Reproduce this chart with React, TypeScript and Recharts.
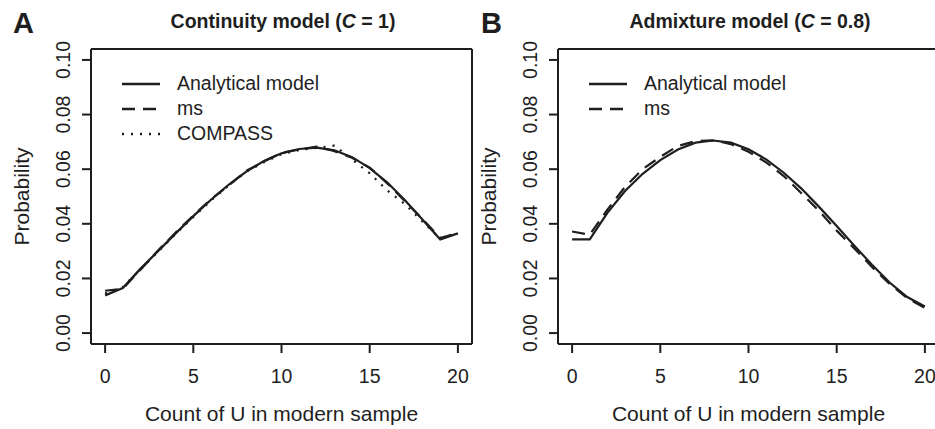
import React from 'react';
import { LineChart, Line, XAxis, YAxis, ReferenceLine, Legend, Label } from 'recharts';

// count of U in the modern sample (x)
const uCounts = [0, 1, 2, 3, 4, 5, 6, 7, 8, 9, 10, 11, 12, 13, 14, 15, 16, 17, 18, 19, 20];

// Panel A: continuity model (C = 1)
const contAnalytical = [0.0138, 0.0165, 0.0235, 0.0300, 0.0365, 0.0428, 0.0488, 0.0543, 0.0591, 0.0630, 0.0658, 0.0674, 0.0679, 0.0669, 0.0644, 0.0604, 0.0551, 0.0486, 0.0415, 0.0343, 0.0365];
const contMs = [0.0155, 0.0162, 0.0232, 0.0302, 0.0368, 0.0430, 0.0490, 0.0540, 0.0594, 0.0628, 0.0660, 0.0672, 0.0683, 0.0666, 0.0642, 0.0606, 0.0548, 0.0483, 0.0417, 0.0348, 0.0367];
const contCompass = [0.0145, 0.0168, 0.0233, 0.0298, 0.0363, 0.0425, 0.0485, 0.0540, 0.0590, 0.0625, 0.0655, 0.0670, 0.0678, 0.0686, 0.0636, 0.0585, 0.0522, 0.0472, 0.0408, 0.0345, 0.0368];

// Panel B: admixture model (C = 0.8)
const admixAnalytical = [0.0343, 0.0343, 0.0440, 0.0520, 0.0583, 0.0633, 0.0672, 0.0697, 0.0705, 0.0697, 0.0673, 0.0636, 0.0587, 0.0529, 0.0462, 0.0392, 0.0320, 0.0250, 0.0185, 0.0132, 0.0097];
const admixMs = [0.0372, 0.0360, 0.0452, 0.0535, 0.0600, 0.0645, 0.0685, 0.0703, 0.0706, 0.0692, 0.0664, 0.0625, 0.0575, 0.0512, 0.0447, 0.0375, 0.0310, 0.0242, 0.0180, 0.0128, 0.0092];

const xTicks = [0, 5, 10, 15, 20];
const yTicks = [0, 0.02, 0.04, 0.06, 0.08, 0.1];

const INK = '#1e1e1e';
const FONT = '"Liberation Sans", Arial, Helvetica, sans-serif';
const X_DOMAIN: [number, number] = [-0.8, 20.8];
const Y_DOMAIN: [number, number] = [-0.004, 0.104];

type SeriesDef = { key: string; name: string; dash?: string; values: number[] };

const SOLID = undefined;
const DASHED = '13 8';
const DOTTED = '2 7';

const continuitySeries: SeriesDef[] = [
  { key: 'analytical', name: 'Analytical model', dash: SOLID, values: contAnalytical },
  { key: 'ms', name: 'ms', dash: DASHED, values: contMs },
  { key: 'compass', name: 'COMPASS', dash: DOTTED, values: contCompass },
];

const admixtureSeries: SeriesDef[] = [
  { key: 'analytical', name: 'Analytical model', dash: SOLID, values: admixAnalytical },
  { key: 'ms', name: 'ms', dash: DASHED, values: admixMs },
];

const XTick = (props: any) => {
  const { x, y, payload } = props;
  return (
    <text x={x} y={y + 28} textAnchor="middle" fontSize={19.5} fontFamily={FONT} fill={INK}>
      {payload.value}
    </text>
  );
};

const YTick = (props: any) => {
  const { x, y, payload } = props;
  const bx = x - 10;
  return (
    <text
      x={bx}
      y={y}
      transform={`rotate(-90, ${bx}, ${y})`}
      textAnchor="middle"
      fontSize={19.5}
      fontFamily={FONT}
      fill={INK}
    >
      {Number(payload.value).toFixed(2)}
    </text>
  );
};

const xTitle = (props: any) => {
  const vb = props.viewBox;
  return (
    <text x={vb.x + vb.width / 2} y={vb.y + 77} textAnchor="middle" fontSize={21} fontFamily={FONT} fill={INK}>
      Count of U in modern sample
    </text>
  );
};

const yTitle = (props: any) => {
  const vb = props.viewBox;
  const bx = vb.x + 29;
  const cy = vb.y + vb.height / 2;
  return (
    <text x={bx} y={cy} transform={`rotate(-90, ${bx}, ${cy})`} textAnchor="middle" fontSize={21} fontFamily={FONT} fill={INK}>
      Probability
    </text>
  );
};

function LegendBox({ series }: { series: SeriesDef[] }) {
  return (
    <div style={{ fontFamily: FONT, fontSize: 19.5, color: INK }}>
      {series.map((s) => (
        <div key={s.key} style={{ display: 'flex', alignItems: 'center', height: 25, lineHeight: '25px' }}>
          <svg width={38} height={6} style={{ marginRight: 17 }}>
            <line x1={0} y1={3} x2={38} y2={3} stroke={INK} strokeWidth={2.3} strokeDasharray={s.dash} />
          </svg>
          <span style={{ whiteSpace: 'nowrap' }}>{s.name}</span>
        </div>
      ))}
    </div>
  );
}

function Panel({ series, rightFrame }: { series: SeriesDef[]; rightFrame: boolean }) {
  const rows = uCounts.map((u, i) => {
    const row: Record<string, number> = { u };
    series.forEach((s) => {
      row[s.key] = s.values[i];
    });
    return row;
  });

  const frame = { stroke: INK, strokeWidth: 2, ifOverflow: 'visible' as const };

  return (
    <LineChart width={480} height={429} data={rows} margin={{ top: 49, right: 8, left: 0, bottom: 0 }}>
      <XAxis
        dataKey="u"
        type="number"
        domain={X_DOMAIN}
        ticks={xTicks}
        interval={0}
        allowDataOverflow
        axisLine={false}
        tickSize={9}
        tickLine={{ stroke: INK, strokeWidth: 2 }}
        tick={<XTick />}
        height={85}
      >
        <Label content={xTitle} />
      </XAxis>
      <YAxis
        type="number"
        domain={Y_DOMAIN}
        ticks={yTicks}
        interval={0}
        allowDataOverflow
        axisLine={false}
        tickSize={9}
        tickLine={{ stroke: INK, strokeWidth: 2 }}
        tick={<YTick />}
        width={91}
      >
        <Label content={yTitle} />
      </YAxis>
      {/* plot frame, like R's box(); panel B's right side falls outside the figure */}
      <ReferenceLine y={Y_DOMAIN[0]} {...frame} />
      <ReferenceLine y={Y_DOMAIN[1]} {...frame} />
      <ReferenceLine x={X_DOMAIN[0]} {...frame} />
      {rightFrame && <ReferenceLine x={X_DOMAIN[1]} {...frame} />}
      {series.map((s) => (
        <Line
          key={s.key}
          type="linear"
          dataKey={s.key}
          name={s.name}
          stroke={INK}
          strokeWidth={2.2}
          strokeDasharray={s.dash}
          dot={false}
          activeDot={false}
          isAnimationActive={false}
        />
      ))}
      <Legend
        layout="vertical"
        align="center"
        verticalAlign="middle"
        wrapperStyle={{ left: 122, top: 71, width: 'auto' }}
        content={() => <LegendBox series={series} />}
      />
    </LineChart>
  );
}

const titleStyle: React.CSSProperties = {
  position: 'absolute',
  top: 11.5,
  fontFamily: FONT,
  fontWeight: 700,
  fontSize: 19.5,
  lineHeight: '19.5px',
  color: INK,
  transform: 'translateX(-50%)',
  whiteSpace: 'nowrap',
};

const letterStyle: React.CSSProperties = {
  position: 'absolute',
  top: 8.5,
  fontFamily: FONT,
  fontWeight: 700,
  fontSize: 29,
  lineHeight: '29px',
  color: INK,
};

export default function App() {
  return (
    <div
      style={{
        position: 'fixed',
        left: 0,
        top: 0,
        width: 935,
        height: 429,
        overflow: 'hidden',
        background: '#fff',
      }}
    >
      <div style={{ position: 'absolute', left: 0, top: 0, width: 480, height: 429 }}>
        <Panel series={continuitySeries} rightFrame />
      </div>
      <div style={{ position: 'absolute', left: 467, top: 0, width: 468, height: 429, overflow: 'hidden' }}>
        <Panel series={admixtureSeries} rightFrame={false} />
      </div>
      <div style={{ ...letterStyle, left: 13 }}>A</div>
      <div style={{ ...letterStyle, left: 481 }}>B</div>
      <div style={{ ...titleStyle, left: 283 }}>
        Continuity model (<i>C</i> = 1)
      </div>
      <div style={{ ...titleStyle, left: 750 }}>
        Admixture model (<i>C</i> = 0.8)
      </div>
    </div>
  );
}
